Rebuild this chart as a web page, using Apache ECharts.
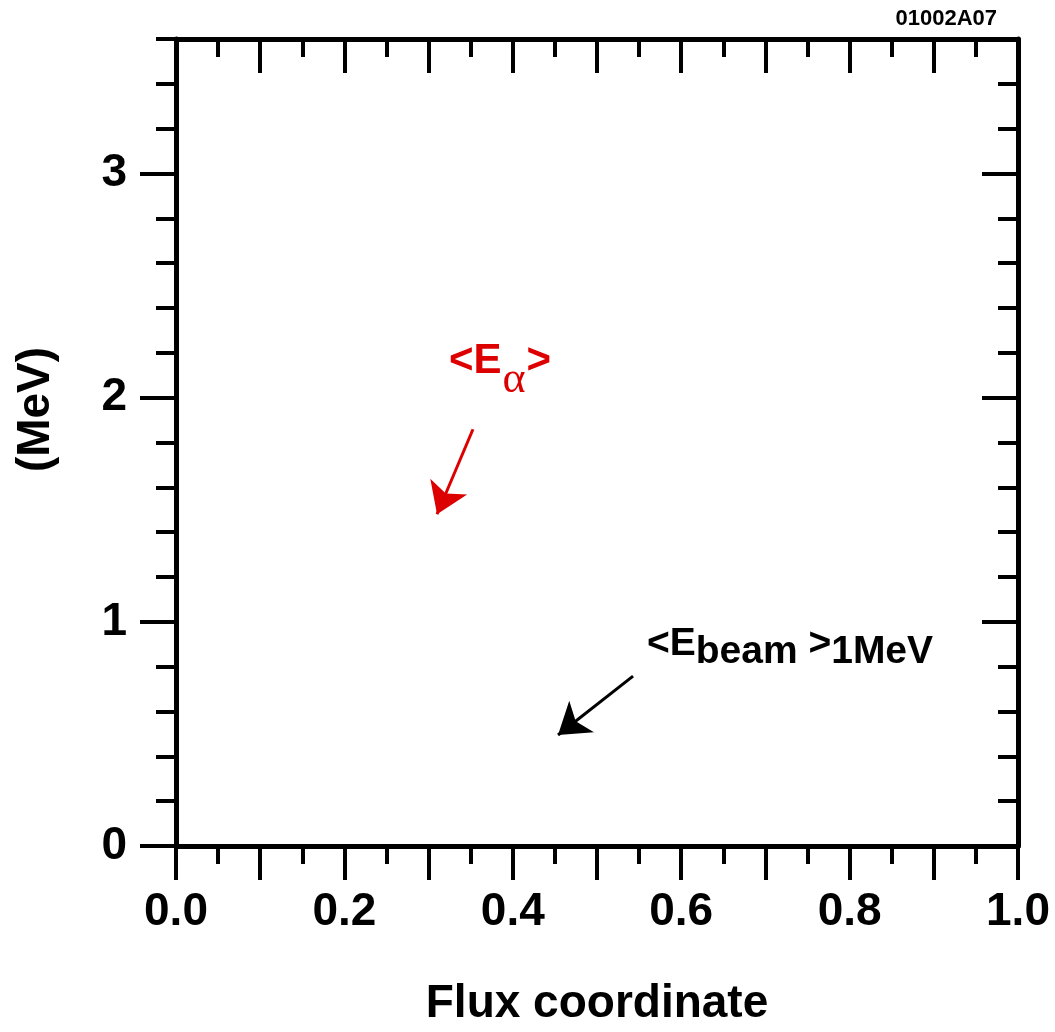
<!DOCTYPE html>
<html><head><meta charset="utf-8">
<script src="https://cdn.jsdelivr.net/npm/echarts@6/dist/echarts.min.js"></script>
<style>html,body{margin:0;padding:0;background:#fff}#c{width:1055px;height:1032px}</style>
</head><body><div id="c"></div>
<script>
// ---- data ----
const xRange = [0, 1];
const yRange = [0, 3.6];
const xLabelValues = [0, 0.2, 0.4, 0.6, 0.8, 1.0];
const yLabelValues = [0, 1, 2, 3];
const yMajorTickValues = [0, 1, 2, 3];
const xMajorStep = 0.1;
const yMinorStep = 0.2;
const alphaArrow = [[0.3527, 1.859], [0.310, 1.480]];
const beamArrow = [[0.5428, 0.758], [0.4537, 0.495]];
const alphaLabelPos = [0.3848, 2.163];
const beamLabelPos = [0.7292, 0.900];
const xTitle = 'Flux coordinate';
const yTitle = '(MeV)';
const figId = '01002A07';

// ---- chart ----
const FONT = 'Liberation Sans, Arial, sans-serif';
const RED = '#dd0000';
const near = (v, arr) => arr.some(a => Math.abs(a - v) < 1e-6);
const lineW = 5, tickW = 4;

function xAxisCfg(pos) {
  const bottom = pos === 'bottom';
  return {
    type: 'value', position: pos, min: xRange[0], max: xRange[1], interval: xMajorStep,
    axisLine: { show: true, onZero: false, lineStyle: { color: '#000', width: lineW } },
    axisTick: { show: true, inside: !bottom, length: 34, lineStyle: { color: '#000', width: tickW } },
    minorTick: { show: true, splitNumber: 2, length: 18, lineStyle: { color: '#000', width: tickW } },
    splitLine: { show: false }, minorSplitLine: { show: false },
    axisLabel: {
      show: bottom, margin: 43, fontSize: 46, fontWeight: 'bold', color: '#000', fontFamily: FONT,
      formatter: v => near(v, xLabelValues) ? v.toFixed(1) : ''
    },
    name: bottom ? xTitle : '', nameLocation: 'middle', nameGap: 135,
    nameTextStyle: { fontSize: 46, fontWeight: 'bold', color: '#000', fontFamily: FONT }
  };
}
function yMinorCfg(pos) {
  const left = pos === 'left';
  return {
    type: 'value', position: pos, min: yRange[0], max: yRange[1], interval: yMinorStep,
    axisLine: { show: true, onZero: false, lineStyle: { color: '#000', width: lineW } },
    axisTick: { show: true, inside: !left, length: 20, lineStyle: { color: '#000', width: tickW } },
    splitLine: { show: false },
    axisLabel: {
      show: left, margin: 49, fontSize: 46, fontWeight: 'bold', color: '#000', fontFamily: FONT,
      formatter: v => near(v, yLabelValues) ? String(Math.round(v)) : ''
    },
    name: left ? yTitle : '', nameLocation: 'middle', nameGap: 117, nameRotate: 90,
    nameTextStyle: { fontSize: 46, fontWeight: 'bold', color: '#000', fontFamily: FONT, padding: [0, 0, 0, 66] }
  };
}
function yMajorCfg(pos) {
  const left = pos === 'left';
  return {
    type: 'value', position: pos, min: yRange[0], max: yRange[1], interval: 1, offset: 0,
    axisLine: { show: false, onZero: false },
    axisTick: { show: true, inside: !left, length: 36, customValues: yMajorTickValues, lineStyle: { color: '#000', width: tickW } },
    splitLine: { show: false },
    axisLabel: { show: false }
  };
}

const chart = echarts.init(document.getElementById('c'), null, { renderer: 'canvas' });
chart.setOption({
  animation: false,
  backgroundColor: '#fff',
  title: {
    text: figId, right: 58, top: 8, padding: 0,
    textStyle: { fontSize: 22, fontWeight: 'bold', color: '#000', fontFamily: FONT }
  },
  grid: { left: 176, right: 37, top: 39, bottom: 185, containLabel: false },
  xAxis: [xAxisCfg('bottom'), xAxisCfg('top')],
  yAxis: [yMinorCfg('left'), yMajorCfg('left'), yMinorCfg('right'), yMajorCfg('right')],
  series: [
    {
      type: 'lines', coordinateSystem: 'cartesian2d', xAxisIndex: 0, yAxisIndex: 0, silent: true,
      symbol: ['none', 'arrow'], symbolSize: 30,
      lineStyle: { color: RED, width: 3, opacity: 1, curveness: 0 },
      data: [{ coords: alphaArrow }]
    },
    {
      type: 'lines', coordinateSystem: 'cartesian2d', xAxisIndex: 0, yAxisIndex: 0, silent: true,
      symbol: ['none', 'arrow'], symbolSize: 30,
      lineStyle: { color: '#000', width: 3, opacity: 1, curveness: 0 },
      data: [{ coords: beamArrow }]
    },
    {
      type: 'scatter', xAxisIndex: 0, yAxisIndex: 0, silent: true, symbolSize: 0,
      itemStyle: { opacity: 1 },
      data: [alphaLabelPos],
      label: {
        show: true, position: 'inside', opacity: 1, textBorderWidth: 0, color: RED,
        formatter: '{a|<E}{s|α}{a|>}',
        rich: {
          a: { fontSize: 42, fontWeight: 'bold', color: RED, fontFamily: FONT, textBorderWidth: 0 },
          s: { fontSize: 44, color: RED, fontFamily: 'Liberation Serif, serif', padding: [38, 1, 0, 1], textBorderWidth: 0 }
        }
      }
    },
    {
      type: 'scatter', xAxisIndex: 0, yAxisIndex: 0, silent: true, symbolSize: 0,
      itemStyle: { opacity: 1 },
      data: [beamLabelPos],
      label: {
        show: true, position: 'inside', opacity: 1, textBorderWidth: 0, color: '#000',
        formatter: '{a|<E}{s|beam}{a| >}{s|1MeV}',
        rich: {
          a: { fontSize: 39, fontWeight: 'bold', color: '#000', fontFamily: FONT, textBorderWidth: 0 },
          s: { fontSize: 39, fontWeight: 'bold', color: '#000', fontFamily: FONT, padding: [16, 0, 0, 0], textBorderWidth: 0 }
        }
      }
    }
  ]
});
</script></body></html>
